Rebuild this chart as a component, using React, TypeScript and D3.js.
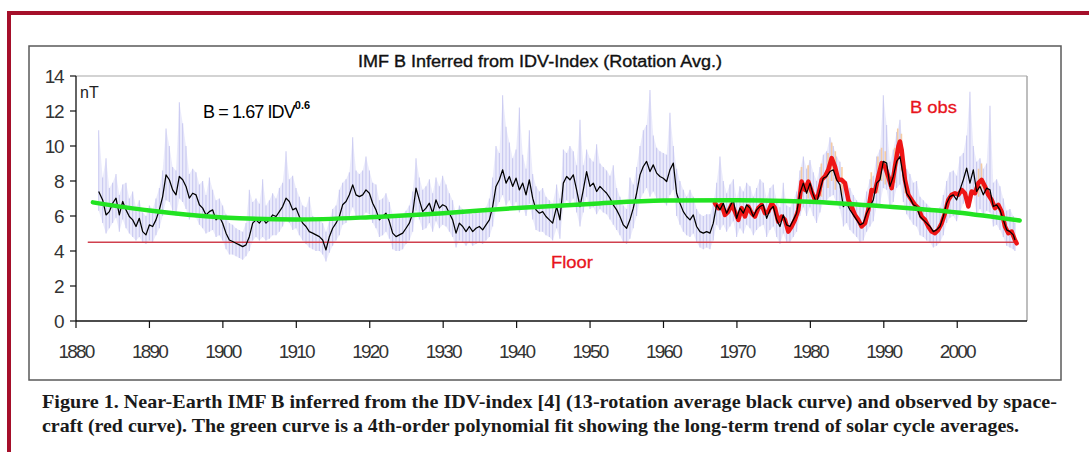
import * as d3 from 'd3'

const W = 1089
const H = 452
const PLOT = { left: 76, right: 1027, top: 76, bottom: 321 }

const X_DOMAIN: [number, number] = [1880, 2009.5]
const Y_DOMAIN: [number, number] = [0, 14]
const X_TICKS = [1880, 1890, 1900, 1910, 1920, 1930, 1940, 1950, 1960, 1970, 1980, 1990, 2000]
const Y_TICKS = [0, 2, 4, 6, 8, 10, 12, 14]

const FLOOR_VALUE = 4.5
const FLOOR_SPAN: [number, number] = [1881.6, 2008.0]

// 4th-order polynomial trend (green)
const GREEN_FIT: [number, number][] = [
  [1882.3, 6.78], [1890, 6.31], [1900, 5.92], [1910, 5.8], [1920, 5.93], [1930, 6.16],
  [1940, 6.46], [1950, 6.69], [1960, 6.88], [1970, 6.9], [1980, 6.82], [1990, 6.55],
  [2000, 6.2], [2008.5, 5.74],
]

// 13-rotation average of inferred B (black)
const BLACK_CURVE: [number, number][] = [
  [1883.09, 7.4], [1883.63, 6.92], [1884.09, 6.06], [1884.54, 6.25], [1884.99, 6.73], [1885.45, 7.02],
  [1885.9, 6.06], [1886.36, 6.83], [1886.81, 6.35], [1887.26, 5.97], [1887.72, 5.78], [1888.17, 5.4],
  [1888.62, 5.87], [1889.08, 5.11], [1889.53, 4.92], [1889.99, 5.49], [1890.44, 5.4], [1890.89, 5.78],
  [1891.35, 6.35], [1891.8, 7.11], [1892.26, 8.35], [1892.71, 8.07], [1893.16, 7.49], [1893.62, 7.21],
  [1894.07, 8.26], [1894.53, 8.07], [1894.98, 7.69], [1895.43, 7.02], [1895.89, 7.3], [1896.34, 7.21],
  [1896.8, 6.64], [1897.25, 6.45], [1897.7, 6.06], [1898.16, 6.25], [1898.61, 6.35], [1899.07, 5.78],
  [1899.52, 5.97], [1899.97, 5.59], [1900.43, 5.02], [1900.88, 4.63], [1901.33, 4.54], [1901.79, 4.44],
  [1902.24, 4.35], [1902.7, 4.25], [1903.15, 4.35], [1903.6, 4.82], [1904.06, 5.59], [1904.51, 5.78],
  [1904.97, 5.59], [1905.42, 5.87], [1905.87, 5.59], [1906.33, 5.78], [1906.78, 6.06], [1907.24, 5.97],
  [1907.69, 6.25], [1908.14, 6.54], [1908.6, 7.02], [1909.05, 6.83], [1909.51, 6.35], [1909.96, 6.45],
  [1910.41, 5.97], [1910.87, 5.59], [1911.32, 5.4], [1911.77, 5.11], [1912.23, 5.02], [1912.68, 4.92],
  [1913.14, 4.82], [1913.59, 4.63], [1914.04, 4.06], [1914.5, 4.82], [1914.95, 5.3], [1915.41, 5.59],
  [1915.86, 5.97], [1916.31, 6.64], [1916.77, 6.83], [1917.22, 7.21], [1917.68, 7.78], [1918.13, 7.21],
  [1918.58, 7.11], [1919.04, 7.21], [1919.49, 7.49], [1919.95, 7.3], [1920.4, 6.73], [1920.85, 6.35],
  [1921.31, 5.78], [1921.76, 5.97], [1922.21, 6.16], [1922.67, 5.68], [1923.12, 5.02], [1923.58, 4.82],
  [1924.03, 4.92], [1924.49, 5.02], [1924.94, 5.3], [1925.39, 5.59], [1925.85, 6.16], [1926.3, 7.59],
  [1926.75, 6.92], [1927.21, 6.25], [1927.66, 6.45], [1928.12, 6.73], [1928.57, 6.16], [1929.02, 6.92],
  [1929.48, 6.45], [1929.93, 6.64], [1930.39, 6.54], [1930.84, 6.16], [1931.29, 5.78], [1931.75, 5.02],
  [1932.2, 5.59], [1932.66, 5.4], [1933.11, 5.11], [1933.56, 5.4], [1934.02, 5.11], [1934.47, 5.3],
  [1934.93, 5.4], [1935.38, 5.21], [1935.83, 5.49], [1936.29, 5.78], [1936.74, 6.54], [1937.19, 7.69],
  [1937.65, 8.07], [1938.1, 8.64], [1938.56, 7.88], [1939.01, 8.26], [1939.46, 7.69], [1939.92, 8.16],
  [1940.37, 7.49], [1940.83, 7.88], [1941.28, 7.21], [1941.73, 8.07], [1942.19, 7.02], [1942.64, 6.35],
  [1943.1, 6.16], [1943.55, 6.25], [1944.0, 5.97], [1944.46, 5.78], [1944.91, 5.59], [1945.45, 6.54],
  [1945.9, 5.78], [1946.36, 7.88], [1946.81, 8.26], [1947.26, 8.07], [1947.72, 8.35], [1948.17, 7.49],
  [1948.63, 6.54], [1949.08, 7.49], [1949.53, 8.54], [1949.99, 7.69], [1950.44, 7.88], [1950.9, 7.4],
  [1951.35, 7.69], [1951.8, 7.49], [1952.26, 7.3], [1952.71, 7.02], [1953.16, 6.64], [1953.62, 6.35],
  [1954.07, 5.97], [1954.53, 5.49], [1954.98, 5.3], [1955.43, 5.78], [1955.89, 6.45], [1956.34, 7.3],
  [1956.8, 8.35], [1957.25, 8.83], [1957.7, 9.12], [1958.16, 8.54], [1958.61, 8.92], [1959.07, 8.45],
  [1959.52, 8.26], [1959.97, 8.16], [1960.43, 7.97], [1960.88, 8.64], [1961.34, 9.02], [1961.79, 7.3],
  [1962.24, 6.73], [1962.7, 6.25], [1963.15, 5.97], [1963.61, 5.78], [1964.06, 6.06], [1964.51, 5.4],
  [1964.97, 5.11], [1965.42, 5.02], [1965.88, 5.11], [1966.33, 5.02], [1966.78, 5.59], [1967.24, 6.64],
  [1967.69, 6.35], [1968.14, 6.73], [1968.6, 6.16], [1969.05, 6.54], [1969.51, 6.92], [1969.96, 5.87],
  [1970.41, 6.45], [1970.87, 6.16], [1971.32, 6.64], [1971.78, 6.45], [1972.23, 5.97], [1972.68, 6.35],
  [1973.14, 6.54], [1973.59, 6.64], [1974.05, 5.87], [1974.5, 6.35], [1974.95, 6.54], [1975.41, 5.78],
  [1975.86, 5.4], [1976.31, 6.06], [1976.77, 5.49], [1977.22, 5.4], [1977.68, 5.78], [1978.13, 6.16],
  [1978.58, 7.3], [1979.04, 7.88], [1979.49, 7.3], [1979.95, 7.88], [1980.4, 7.21], [1980.85, 6.73],
  [1981.31, 7.49], [1981.76, 8.16], [1982.22, 8.26], [1982.67, 8.54], [1983.12, 8.64], [1983.58, 8.07],
  [1984.03, 7.78], [1984.49, 6.54], [1984.94, 6.73], [1985.39, 6.35], [1985.85, 6.06], [1986.3, 5.78],
  [1986.75, 5.49], [1987.21, 5.59], [1987.66, 6.16], [1988.12, 6.54], [1988.57, 6.92], [1989.02, 7.88],
  [1989.48, 8.07], [1989.93, 9.12], [1990.39, 9.02], [1990.84, 7.69], [1991.29, 8.26], [1991.75, 9.12],
  [1992.2, 9.4], [1992.66, 8.26], [1993.11, 7.3], [1993.56, 7.02], [1994.02, 6.64], [1994.47, 6.54],
  [1994.93, 5.97], [1995.38, 5.78], [1995.83, 5.59], [1996.29, 5.4], [1996.74, 5.11], [1997.19, 5.21],
  [1997.65, 5.4], [1998.1, 5.97], [1998.56, 6.73], [1999.01, 7.11], [1999.46, 7.21], [1999.92, 6.92],
  [2000.37, 7.49], [2000.83, 8.07], [2001.28, 8.73], [2001.73, 7.88], [2002.19, 8.64], [2002.64, 7.4],
  [2003.1, 7.69], [2003.55, 7.21], [2004.0, 7.59], [2004.46, 7.49], [2004.91, 6.54], [2005.37, 6.64],
  [2005.82, 6.35], [2006.27, 5.78], [2006.73, 5.21], [2007.18, 5.11], [2007.63, 4.92], [2007.86, 4.63],
]

// per-rotation inferred B spread (light blue spikes): [year, low, high]
const RAW_RANGE: [number, number, number][] = [
  [1883.09, 6.3, 10.9], [1883.63, 5.6, 8.2], [1884.09, 5.0, 9.3], [1884.54, 5.3, 7.6], [1884.99, 5.6, 7.9],
  [1885.45, 5.9, 8.4], [1885.9, 5.1, 7.2], [1886.36, 5.8, 7.8], [1886.81, 5.3, 7.9], [1887.26, 5.0, 7.0],
  [1887.72, 4.8, 7.4], [1888.17, 4.6, 6.5], [1888.62, 4.8, 6.9], [1889.08, 4.5, 6.2], [1889.53, 4.4, 6.0],
  [1889.99, 4.6, 6.6], [1890.44, 4.5, 6.4], [1890.89, 4.9, 7.0], [1891.35, 5.3, 7.6], [1891.8, 6.0, 8.6],
  [1892.26, 6.9, 11.0], [1892.71, 6.8, 10.0], [1893.16, 6.3, 8.8], [1893.62, 6.0, 8.6], [1894.07, 7.0, 12.5],
  [1894.53, 6.8, 11.3], [1894.98, 6.4, 10.0], [1895.43, 5.8, 8.4], [1895.89, 6.1, 8.7], [1896.34, 5.9, 8.5],
  [1896.8, 5.5, 7.8], [1897.25, 5.3, 8.0], [1897.7, 5.0, 7.2], [1898.16, 5.1, 8.2], [1898.61, 5.2, 7.5],
  [1899.07, 4.8, 6.9], [1899.52, 4.9, 7.0], [1899.97, 4.6, 6.6], [1900.43, 4.1, 6.1], [1900.88, 3.8, 5.6],
  [1901.33, 3.8, 5.5], [1901.79, 3.7, 5.3], [1902.24, 3.6, 5.2], [1902.7, 3.5, 5.1], [1903.15, 3.7, 5.6],
  [1903.6, 4.0, 7.5], [1904.06, 4.6, 6.8], [1904.51, 4.8, 7.0], [1904.97, 4.6, 6.7], [1905.42, 4.8, 8.1],
  [1905.87, 4.6, 6.6], [1906.33, 4.7, 6.9], [1906.78, 4.9, 7.3], [1907.24, 4.9, 7.0], [1907.69, 5.1, 7.6],
  [1908.14, 5.4, 7.9], [1908.6, 5.8, 9.7], [1909.05, 5.6, 8.1], [1909.51, 5.2, 8.3], [1909.96, 5.3, 7.6],
  [1910.41, 4.9, 7.1], [1910.87, 4.6, 6.6], [1911.32, 4.4, 6.5], [1911.77, 4.2, 7.1], [1912.23, 4.1, 6.0],
  [1912.68, 4.0, 5.9], [1913.14, 4.0, 5.8], [1913.59, 3.8, 5.6], [1914.04, 3.4, 5.1], [1914.5, 3.9, 5.7],
  [1914.95, 4.3, 6.4], [1915.41, 4.6, 6.6], [1915.86, 4.9, 7.5], [1916.31, 5.5, 7.9], [1916.77, 5.6, 8.1],
  [1917.22, 6.0, 8.5], [1917.68, 6.5, 10.5], [1918.13, 6.0, 8.6], [1918.58, 5.9, 8.4], [1919.04, 6.0, 8.6],
  [1919.49, 6.2, 9.4], [1919.95, 6.1, 8.6], [1920.4, 5.6, 7.9], [1920.85, 5.3, 7.8], [1921.31, 4.8, 6.9],
  [1921.76, 4.9, 7.0], [1922.21, 5.1, 7.3], [1922.67, 4.7, 6.8], [1923.12, 4.1, 6.1], [1923.58, 4.0, 5.9],
  [1924.03, 4.0, 6.0], [1924.49, 4.1, 6.1], [1924.94, 4.4, 6.3], [1925.39, 4.6, 6.6], [1925.85, 5.1, 7.4],
  [1926.3, 6.3, 9.3], [1926.75, 5.8, 8.2], [1927.21, 5.2, 7.5], [1927.66, 5.3, 7.7], [1928.12, 5.6, 8.1],
  [1928.57, 5.1, 7.3], [1929.02, 5.7, 8.2], [1929.48, 5.3, 7.7], [1929.93, 5.5, 8.3], [1930.39, 5.4, 7.8],
  [1930.84, 5.1, 7.3], [1931.29, 4.8, 6.9], [1931.75, 4.2, 6.1], [1932.2, 4.6, 6.6], [1932.66, 4.5, 6.4],
  [1933.11, 4.3, 6.1], [1933.56, 4.5, 6.4], [1934.02, 4.3, 6.1], [1934.47, 4.4, 6.3], [1934.93, 4.5, 6.4],
  [1935.38, 4.4, 6.2], [1935.83, 4.6, 6.5], [1936.29, 4.8, 7.0], [1936.74, 5.4, 8.2], [1937.19, 6.4, 10.0],
  [1937.65, 6.8, 9.6], [1938.1, 7.2, 12.9], [1938.56, 6.6, 11.1], [1939.01, 6.9, 10.2], [1939.46, 6.4, 9.3],
  [1939.92, 6.8, 9.8], [1940.37, 6.2, 12.2], [1940.83, 6.5, 9.5], [1941.28, 6.0, 8.7], [1941.73, 6.7, 10.9],
  [1942.19, 5.8, 8.4], [1942.64, 5.2, 7.7], [1943.1, 5.1, 7.4], [1943.55, 5.1, 7.6], [1944.0, 4.9, 7.1],
  [1944.46, 4.8, 6.9], [1944.91, 4.6, 6.7], [1945.45, 5.3, 7.8], [1945.9, 4.7, 7.0], [1946.36, 6.5, 9.8],
  [1946.81, 6.9, 9.6], [1947.26, 6.7, 10.0], [1947.72, 7.0, 9.7], [1948.17, 6.2, 8.9], [1948.63, 5.4, 11.5],
  [1949.08, 6.2, 8.9], [1949.53, 7.1, 9.8], [1949.99, 6.4, 9.3], [1950.44, 6.5, 9.1], [1950.9, 6.1, 10.1],
  [1951.35, 6.4, 9.0], [1951.8, 6.2, 8.8], [1952.26, 6.1, 8.6], [1952.71, 5.8, 8.3], [1953.16, 5.5, 8.9],
  [1953.62, 5.2, 7.6], [1954.07, 4.9, 7.1], [1954.53, 4.5, 6.6], [1954.98, 4.4, 6.4], [1955.43, 4.7, 8.2],
  [1955.89, 5.3, 7.8], [1956.34, 6.0, 8.8], [1956.8, 6.9, 10.0], [1957.25, 7.3, 10.9], [1957.7, 7.6, 11.2],
  [1958.16, 7.1, 13.2], [1958.61, 7.4, 10.6], [1959.07, 7.0, 9.9], [1959.52, 6.9, 9.7], [1959.97, 6.8, 9.6],
  [1960.43, 6.6, 9.5], [1960.88, 7.2, 11.9], [1961.34, 7.5, 10.0], [1961.79, 6.0, 8.7], [1962.24, 5.5, 8.0],
  [1962.7, 5.1, 7.5], [1963.15, 4.9, 7.1], [1963.61, 4.8, 7.5], [1964.06, 5.0, 7.1], [1964.51, 4.5, 6.4],
  [1964.97, 4.2, 6.1], [1965.42, 4.1, 6.0], [1965.88, 4.2, 6.1], [1966.33, 4.1, 6.1], [1966.78, 4.6, 6.7],
  [1967.24, 5.5, 7.9], [1967.69, 5.2, 9.4], [1968.14, 5.5, 8.0], [1968.6, 5.1, 7.3], [1969.05, 5.4, 7.8],
  [1969.51, 5.7, 8.1], [1969.96, 4.8, 7.0], [1970.41, 5.3, 7.7], [1970.87, 5.0, 7.4], [1971.32, 5.5, 7.9],
  [1971.78, 5.3, 7.7], [1972.23, 4.9, 7.1], [1972.68, 5.2, 7.6], [1973.14, 5.4, 8.1], [1973.59, 5.5, 7.9],
  [1974.05, 4.8, 7.0], [1974.5, 5.2, 7.6], [1974.95, 5.4, 7.8], [1975.41, 4.8, 6.9], [1975.86, 4.4, 6.5],
  [1976.31, 5.0, 7.9], [1976.77, 4.5, 6.6], [1977.22, 4.5, 6.5], [1977.68, 4.8, 6.9], [1978.13, 5.1, 7.4],
  [1978.58, 6.0, 8.6], [1979.04, 6.5, 9.4], [1979.49, 6.0, 8.7], [1979.95, 6.5, 9.2], [1980.4, 6.0, 8.5],
  [1980.85, 5.6, 8.0], [1981.31, 6.2, 8.8], [1981.76, 6.8, 9.5], [1982.22, 6.9, 9.7], [1982.67, 7.1, 10.5],
  [1983.12, 7.2, 10.0], [1983.58, 6.7, 9.4], [1984.03, 6.4, 9.1], [1984.49, 5.4, 7.8], [1984.94, 5.6, 8.0],
  [1985.39, 5.2, 7.6], [1985.85, 5.0, 7.2], [1986.3, 4.8, 6.9], [1986.75, 4.5, 6.6], [1987.21, 4.6, 6.7],
  [1987.66, 5.1, 7.4], [1988.12, 5.4, 8.1], [1988.57, 5.7, 8.3], [1989.02, 6.5, 9.4], [1989.48, 6.7, 9.8],
  [1989.93, 7.6, 12.9], [1990.39, 7.5, 11.2], [1990.84, 6.4, 9.1], [1991.29, 6.8, 9.8], [1991.75, 7.6, 10.8],
  [1992.2, 7.8, 11.5], [1992.66, 6.8, 9.8], [1993.11, 6.1, 8.7], [1993.56, 5.8, 8.4], [1994.02, 5.5, 7.9],
  [1994.47, 5.4, 8.0], [1994.93, 4.9, 7.1], [1995.38, 4.8, 6.9], [1995.83, 4.6, 6.7], [1996.29, 4.5, 6.5],
  [1996.74, 4.2, 6.2], [1997.19, 4.3, 6.3], [1997.65, 4.5, 6.5], [1998.1, 4.9, 7.2], [1998.56, 5.6, 8.0],
  [1999.01, 5.9, 8.5], [1999.46, 6.0, 8.6], [1999.92, 5.7, 8.3], [2000.37, 6.2, 9.4], [2000.83, 6.7, 9.6],
  [2001.28, 7.2, 10.6], [2001.73, 6.5, 13.1], [2002.19, 7.2, 10.0], [2002.64, 6.1, 9.1], [2003.1, 6.4, 9.3],
  [2003.55, 6.0, 8.7], [2004.0, 6.3, 9.0], [2004.46, 6.2, 12.3], [2004.91, 5.4, 7.9], [2005.37, 5.5, 8.1],
  [2005.82, 5.2, 7.7], [2006.27, 4.8, 7.0], [2006.73, 4.3, 6.3], [2007.18, 4.2, 6.4], [2007.63, 4.1, 6.0],
  [2007.86, 4.0, 5.6],
]

// spacecraft observed B, 13-rotation average (red)
const RED_OBS: [number, number][] = [
  [1967.01, 6.73], [1967.46, 6.45], [1967.92, 6.64], [1968.37, 6.06], [1968.83, 6.25], [1969.28, 6.64],
  [1969.73, 6.25], [1970.19, 5.78], [1970.64, 6.45], [1971.09, 5.97], [1971.55, 6.54], [1972.0, 6.16],
  [1972.46, 5.97], [1972.91, 6.45], [1973.36, 6.64], [1973.82, 6.16], [1974.27, 6.25], [1974.73, 6.73],
  [1975.18, 6.45], [1975.63, 5.68], [1976.09, 5.97], [1976.54, 5.78], [1977.0, 5.11], [1977.45, 5.4],
  [1977.9, 5.78], [1978.36, 6.35], [1978.81, 7.97], [1979.27, 7.49], [1979.72, 7.97], [1980.17, 7.4],
  [1980.63, 6.92], [1981.08, 7.21], [1981.54, 8.07], [1981.99, 8.26], [1982.44, 8.64], [1982.9, 9.31],
  [1983.35, 8.83], [1983.8, 8.07], [1984.26, 8.07], [1984.71, 7.88], [1985.17, 6.92], [1985.62, 6.54],
  [1986.07, 6.06], [1986.53, 5.78], [1986.98, 5.4], [1987.44, 5.59], [1987.89, 6.35], [1988.34, 7.49],
  [1988.8, 7.4], [1989.25, 8.26], [1989.71, 9.02], [1990.16, 8.83], [1990.61, 8.26], [1991.07, 7.59],
  [1991.52, 8.83], [1991.98, 9.97], [1992.2, 10.26], [1992.43, 9.78], [1992.88, 8.07], [1993.34, 7.21],
  [1993.79, 6.92], [1994.24, 6.64], [1994.7, 6.45], [1995.15, 5.97], [1995.61, 5.78], [1996.06, 5.4],
  [1996.51, 5.11], [1996.97, 5.02], [1997.42, 5.21], [1997.88, 5.59], [1998.33, 6.16], [1998.78, 6.92],
  [1999.24, 7.21], [1999.69, 7.3], [2000.15, 7.21], [2000.6, 7.49], [2001.05, 7.3], [2001.51, 6.54],
  [2001.96, 7.4], [2002.42, 7.3], [2002.87, 7.88], [2003.32, 8.07], [2003.78, 7.69], [2004.23, 7.21],
  [2004.69, 6.92], [2005.14, 6.45], [2005.59, 6.64], [2006.05, 6.25], [2006.5, 5.4], [2006.96, 5.02],
  [2007.41, 5.11], [2007.86, 4.63], [2008.09, 4.44],
]

// spread of observed rotation values (faint orange): [year, low, high]
const OBS_RANGE: [number, number, number][] = [
  [1978.8, 6.9, 8.8], [1979.7, 7.0, 8.9], [1981.5, 7.1, 9.0], [1982.4, 7.6, 9.6], [1982.9, 8.0, 10.2],
  [1983.4, 7.5, 9.7], [1984.3, 7.2, 8.8], [1988.3, 6.6, 8.5], [1989.2, 7.3, 9.4], [1989.7, 8.0, 9.9],
  [1990.2, 7.8, 9.7], [1991.5, 7.9, 9.9], [1991.9, 9.0, 11.0], [1992.4, 8.6, 10.7], [1992.9, 7.3, 8.9],
  [2002.9, 7.1, 8.7], [2003.3, 7.4, 9.0],
]

const TITLE = 'IMF B Inferred from IDV-Index (Rotation Avg.)'
const CAPTION = [
  'Figure 1. Near-Earth IMF B inferred from the IDV-index [4] (13-rotation average black curve) and observed by space-',
  'craft (red curve). The green curve is a 4th-order polynomial fit showing the long-term trend of solar cycle averages.',
]

const SANS = '"Liberation Sans", Arial, sans-serif'
const SERIF = '"Liberation Serif", "Times New Roman", serif'

export default function App() {
  const x = d3.scaleLinear(X_DOMAIN, [PLOT.left, PLOT.right])
  const y = d3.scaleLinear(Y_DOMAIN, [PLOT.bottom, PLOT.top])

  const line = d3.line<[number, number]>().x(d => x(d[0])).y(d => y(d[1]))
  const greenPath = d3.line<[number, number]>()
    .x(d => x(d[0])).y(d => y(d[1]))
    .curve(d3.curveMonotoneX)(GREEN_FIT) ?? ''

  // raw rotation values: vertical spikes between low and high
  const rawSpikes = RAW_RANGE
    .map(([t, lo, hi]) => `M${x(t)},${y(hi)}L${x(t)},${y(lo)}`)
    .join('')
  const rawArea = d3.area<[number, number, number]>()
    .x(d => x(d[0])).y0(d => y(d[1])).y1(d => y(d[2]))
    .curve(d3.curveLinear)(RAW_RANGE) ?? ''

  return (
    <svg
      width={W}
      height={H}
      style={{ position: 'absolute', left: 0, top: 0, background: '#fff' }}
    >
      {/* page frame */}
      <line x1={7} x2={W} y1={13} y2={13} stroke="#a50f2a" strokeWidth={4} />
      <line x1={9} x2={9} y1={11} y2={H} stroke="#a50f2a" strokeWidth={4} />
      <rect x={29} y={46} width={1032} height={334} fill="none" stroke="#5a5a5a" strokeWidth={1.5} />

      {/* title */}
      <text
        x={540} y={67} textAnchor="middle" fontFamily={SANS} fontSize={16}
        fill="#111" stroke="#111" strokeWidth={0.35}
        textLength={364} lengthAdjust="spacingAndGlyphs"
      >
        {TITLE}
      </text>

      {/* plot frame */}
      <line x1={PLOT.left} x2={PLOT.right} y1={PLOT.top} y2={PLOT.top} stroke="#a8a8a8" strokeWidth={1.2} />
      <line x1={PLOT.right} x2={PLOT.right} y1={PLOT.top} y2={PLOT.bottom} stroke="#a8a8a8" strokeWidth={1.5} />

      {/* raw spread */}
      <path d={rawArea} fill="#d2d2f6" opacity={0.45} />
      <path d={rawSpikes} fill="none" stroke="#b3b3ea" strokeWidth={0.9} opacity={0.75} />
      {OBS_RANGE.map(([t, lo, hi]) => (
        <line key={t} x1={x(t)} x2={x(t)} y1={y(lo)} y2={y(hi)} stroke="#f7c48f" strokeWidth={1.6} opacity={0.8} />
      ))}

      {/* floor */}
      <line
        x1={x(FLOOR_SPAN[0])} x2={x(FLOOR_SPAN[1])} y1={y(FLOOR_VALUE)} y2={y(FLOOR_VALUE)}
        stroke="#d0404e" strokeWidth={1.4}
      />

      {/* observed */}
      <path d={line(RED_OBS) ?? ''} fill="none" stroke="#ee1515" strokeWidth={4.5} strokeLinejoin="round" strokeLinecap="round" />
      {/* inferred */}
      <path d={line(BLACK_CURVE) ?? ''} fill="none" stroke="#000" strokeWidth={1.25} strokeLinejoin="round" />
      {/* trend */}
      <path d={greenPath} fill="none" stroke="#22e322" strokeWidth={4.5} strokeLinecap="round" />

      {/* axes */}
      <line x1={PLOT.left} x2={PLOT.left} y1={PLOT.top} y2={PLOT.bottom} stroke="#111" strokeWidth={1.3} />
      <line x1={PLOT.left} x2={PLOT.right} y1={PLOT.bottom} y2={PLOT.bottom} stroke="#111" strokeWidth={1.3} />
      {Y_TICKS.map(v => (
        <g key={v}>
          <line x1={PLOT.left - 6} x2={PLOT.left} y1={y(v)} y2={y(v)} stroke="#111" strokeWidth={1.2} />
          <text
            x={63} y={y(v) + 7} textAnchor="end" fontFamily={SANS} fontSize={19}
            fill="#333" style={{ letterSpacing: '-1.5px' }}
          >
            {v}
          </text>
        </g>
      ))}
      {X_TICKS.map(t => (
        <g key={t}>
          <line x1={x(t)} x2={x(t)} y1={PLOT.bottom} y2={PLOT.bottom + 7} stroke="#111" strokeWidth={1.2} />
          <text
            x={x(t)} y={358} textAnchor="middle" fontFamily={SANS} fontSize={19}
            fill="#333" style={{ letterSpacing: '-1.8px' }}
          >
            {t}
          </text>
        </g>
      ))}

      {/* annotations */}
      <text x={80} y={98} fontFamily={SANS} fontSize={16} fill="#222">nT</text>
      <text
        x={203} y={118} fontFamily={SANS} fontSize={18} fill="#000"
        style={{ letterSpacing: '-0.9px' }}
      >
        B = 1.67 IDV
        <tspan dy={-9} fontSize={11} fontWeight="bold" style={{ letterSpacing: '0px' }}>0.6</tspan>
      </text>
      <text
        x={551} y={268} fontFamily={SANS} fontSize={17} fill="#e8141c" stroke="#e8141c" strokeWidth={0.3}
        textLength={42} lengthAdjust="spacingAndGlyphs"
      >
        Floor
      </text>
      <text
        x={910} y={113} fontFamily={SANS} fontSize={17} fill="#e8141c" stroke="#e8141c" strokeWidth={0.3}
        textLength={47} lengthAdjust="spacingAndGlyphs"
      >
        B obs
      </text>

      {/* caption */}
      <text
        x={42} y={408} fontFamily={SERIF} fontSize={19} fontWeight="bold" fill="#1a1a1a"
        textLength={1015} lengthAdjust="spacingAndGlyphs"
      >
        {CAPTION[0]}
      </text>
      <text
        x={42} y={432} fontFamily={SERIF} fontSize={19} fontWeight="bold" fill="#1a1a1a"
        textLength={977} lengthAdjust="spacingAndGlyphs"
      >
        {CAPTION[1]}
      </text>
    </svg>
  )
}
